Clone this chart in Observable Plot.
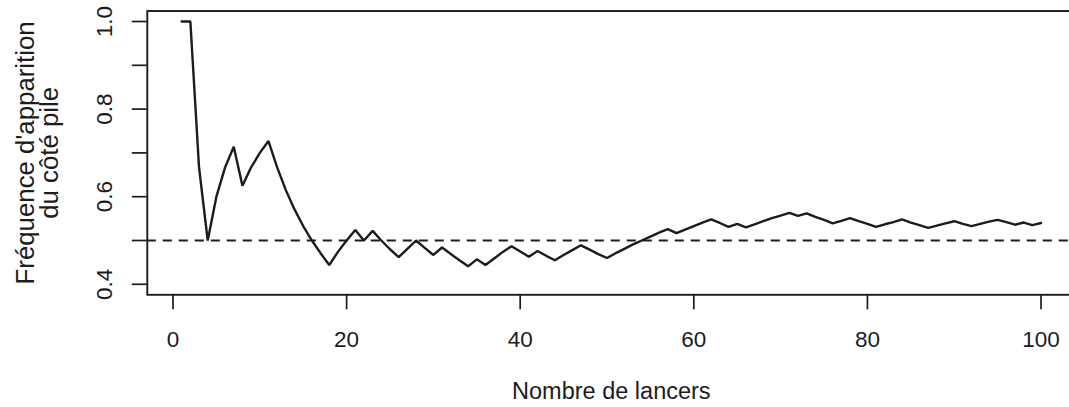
<!DOCTYPE html>
<html>
<head>
<meta charset="utf-8">
<script src="https://cdn.jsdelivr.net/npm/d3@7"></script>
<script src="https://cdn.jsdelivr.net/npm/@observablehq/plot@0.6"></script>
<style>
  html, body { margin: 0; padding: 0; background: white; overflow: hidden; }
</style>
</head>
<body>
<div id="chart"></div>
<script>
// Running frequency of "pile" after each toss (tosses 1..100)
const frequencies = [
  1.000, 1.000, 0.667, 0.500, 0.600, 0.667, 0.714, 0.625, 0.667, 0.700,
  0.727, 0.667, 0.615, 0.571, 0.533, 0.500, 0.471, 0.444, 0.474, 0.500,
  0.524, 0.500, 0.522, 0.500, 0.480, 0.462, 0.481, 0.500, 0.483, 0.467,
  0.484, 0.469, 0.455, 0.441, 0.457, 0.444, 0.459, 0.474, 0.487, 0.475,
  0.463, 0.476, 0.465, 0.455, 0.467, 0.478, 0.489, 0.479, 0.469, 0.460,
  0.471, 0.481, 0.491, 0.500, 0.509, 0.518, 0.526, 0.517, 0.525, 0.533,
  0.541, 0.548, 0.540, 0.531, 0.538, 0.530, 0.537, 0.544, 0.551, 0.557,
  0.563, 0.556, 0.562, 0.554, 0.547, 0.539, 0.545, 0.551, 0.544, 0.538,
  0.531, 0.537, 0.542, 0.548, 0.541, 0.535, 0.529, 0.534, 0.539, 0.544,
  0.538, 0.533, 0.538, 0.543, 0.547, 0.542, 0.536, 0.541, 0.535, 0.540
];
const referenceLevel = [0.5];
const xTicks = [0, 20, 40, 60, 80, 100];
const yTicks = [0.4, 0.5, 0.6, 0.7, 0.8, 0.9, 1.0];
const yLabels = [0.4, 0.6, 0.8, 1.0];
const xTitle = "Nombre de lancers";
const yTitle = "Fréquence d'apparition\ndu côté pile";

const data = frequencies.map((f, i) => ({n: i + 1, f}));
const ink = "#1c1c1c";

const chart = Plot.plot({
  width: 1069,
  height: 407,
  marginLeft: 146.8,
  marginRight: -5.9,
  marginTop: 10.5,
  marginBottom: 112.7,
  style: {
    fontFamily: "'Liberation Sans', Arial, Helvetica, sans-serif",
    fontSize: "22px",
    background: "white",
    color: ink,
    overflow: "hidden"
  },
  x: {domain: [-2.96, 103.96]},
  y: {domain: [0.376, 1.024]},
  marks: [
    Plot.ruleY(referenceLevel, {stroke: ink, strokeWidth: 1.8, strokeDasharray: "9,7"}),
    Plot.line(data, {x: "n", y: "f", stroke: ink, strokeWidth: 2.4, strokeLinejoin: "miter"}),
    Plot.frame({stroke: ink, strokeWidth: 1.9}),
    Plot.axisX(xTicks, {
      tickSize: 15, tickPadding: 21, fontSize: 22.5, stroke: ink, strokeWidth: 1.7,
      fill: ink, label: null, tickFormat: d => String(d)
    }),
    Plot.axisY(yTicks, {
      tickSize: 15, tickPadding: 20, tickRotate: -90, fontSize: 22.5, stroke: ink,
      strokeWidth: 1.7, fill: ink, label: null,
      tickFormat: d => (yLabels.includes(d) ? d.toFixed(1) : "")
    }),
    Plot.text([xTitle], {
      text: d => d, frameAnchor: "bottom", dy: 104.5, fontSize: 23.5, fill: ink
    }),
    Plot.text([yTitle], {
      text: d => d, frameAnchor: "left", textAnchor: "middle", rotate: -90,
      lineAnchor: "middle", dx: -109.3, fontSize: 25.8, lineHeight: 0.93, fill: ink
    })
  ]
});
document.getElementById("chart").appendChild(chart);
</script>
</body>
</html>
